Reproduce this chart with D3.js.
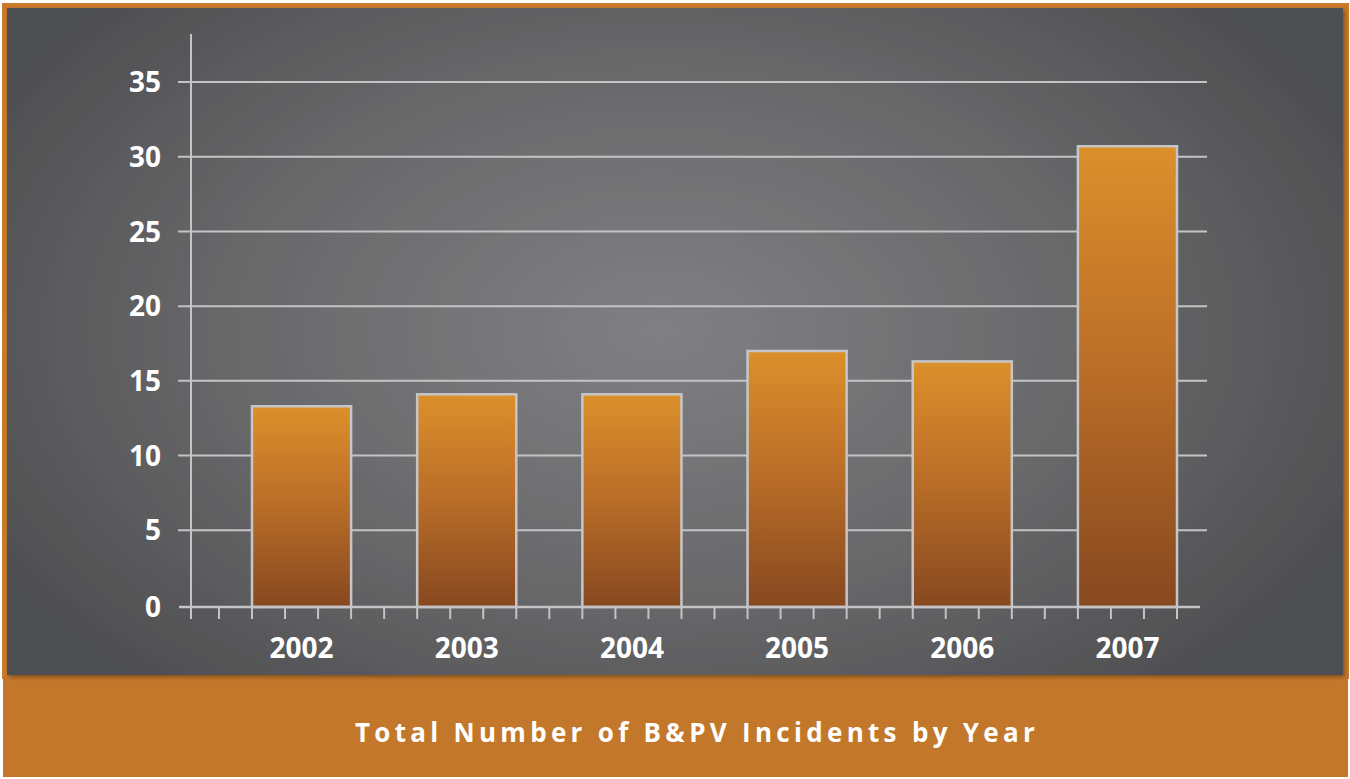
<!DOCTYPE html>
<html>
<head>
<meta charset="utf-8">
<script src="https://cdn.jsdelivr.net/npm/d3@7"></script>
<style>
  html, body { margin: 0; padding: 0; background: #ffffff; }
  svg { display: block; }
</style>
</head>
<body>
<script>
// Incident counts per year
const years = ["2002", "2003", "2004", "2005", "2006", "2007"];
const incidents = [13.3, 14.1, 14.1, 17.0, 16.3, 30.7];
const yTicks = [0, 5, 10, 15, 20, 25, 30, 35];
const title = "Total Number of B&PV Incidents by Year";

const W = 1350, H = 779;
const svg = d3.select("body").append("svg").attr("width", W).attr("height", H);
const defs = svg.append("defs");

// panel background: soft radial glow on dark grey
const bg = defs.append("radialGradient").attr("id", "panelGlow")
  .attr("gradientUnits", "userSpaceOnUse")
  .attr("cx", 660).attr("cy", 330).attr("r", 760)
  .attr("gradientTransform", "translate(660,330) scale(1,0.62) translate(-660,-330)");
bg.append("stop").attr("offset", "0%").attr("stop-color", "#808084");
bg.append("stop").attr("offset", "55%").attr("stop-color", "#69696b");
bg.append("stop").attr("offset", "100%").attr("stop-color", "#4e4f52");

// bar fill: amber at the top fading to brown
const barGrad = defs.append("linearGradient").attr("id", "barFill")
  .attr("x1", 0).attr("y1", 0).attr("x2", 0).attr("y2", 1);
barGrad.append("stop").attr("offset", "0%").attr("stop-color", "#db902b");
barGrad.append("stop").attr("offset", "45%").attr("stop-color", "#bd7028");
barGrad.append("stop").attr("offset", "100%").attr("stop-color", "#874820");

const shadow = defs.append("filter").attr("id", "panelShadow")
  .attr("x", "-2%").attr("y", "-2%").attr("width", "104%").attr("height", "104%");
shadow.append("feDropShadow").attr("dx", 2).attr("dy", 2).attr("stdDeviation", 2)
  .attr("flood-color", "#000").attr("flood-opacity", 0.35);

// orange frame and caption band
svg.append("rect").attr("x", 2).attr("y", 3).attr("width", 1347).attr("height", 676)
  .attr("fill", "#c97a2a");
svg.append("rect").attr("x", 3).attr("y", 675).attr("width", 1345).attr("height", 102)
  .attr("fill", "#c3772a");

// dark panel
svg.append("rect").attr("x", 7).attr("y", 8).attr("width", 1336).attr("height", 667)
  .attr("fill", "url(#panelGlow)").attr("filter", "url(#panelShadow)");

// scales
const y = d3.scaleLinear().domain([0, 35]).range([605, 82]);
const x = d3.scaleBand().domain(years).range([252, 1177]).paddingInner(0.4).paddingOuter(0);

const axisX = 191;      // vertical axis position
const baseY = 607;      // horizontal axis position
const lineCol = "#c4c4c6";
const labelFont = "'Open Sans', 'DejaVu Sans', sans-serif";

// horizontal gridlines
svg.append("g").selectAll("line").data(yTicks.filter(d => d > 0)).join("line")
  .attr("x1", 178).attr("x2", 1207)
  .attr("y1", d => y(d)).attr("y2", d => y(d))
  .attr("stroke", lineCol).attr("stroke-width", 2);

// vertical axis line
svg.append("line").attr("x1", axisX).attr("x2", axisX).attr("y1", 34).attr("y2", 619)
  .attr("stroke", lineCol).attr("stroke-width", 2);

// y tick labels
svg.append("g").selectAll("text").data(yTicks).join("text")
  .attr("x", 161).attr("y", d => d === 0 ? baseY : y(d))
  .attr("dy", "0.36em")
  .attr("text-anchor", "end")
  .attr("fill", "#ffffff")
  .attr("font-family", labelFont).attr("font-weight", 700).attr("font-size", 28)
  .text(d => d);

// bars
svg.append("g").selectAll("rect").data(years).join("rect")
  .attr("x", d => x(d))
  .attr("y", (d, i) => y(incidents[i]))
  .attr("width", x.bandwidth())
  .attr("height", (d, i) => baseY - y(incidents[i]))
  .attr("fill", "url(#barFill)")
  .attr("stroke", "#c6c6c8").attr("stroke-width", 2.5);

// horizontal axis line and minor ticks (five per band step)
svg.append("line").attr("x1", 179).attr("x2", 1200).attr("y1", baseY).attr("y2", baseY)
  .attr("stroke", lineCol).attr("stroke-width", 2.5);
const sub = x.step() / 5;
const tickPos = [axisX];
for (let k = -1; k <= 5 * (years.length - 1) + 3; k++) tickPos.push(x(years[0]) + k * sub);
svg.append("g").selectAll("line").data(tickPos).join("line")
  .attr("x1", d => d).attr("x2", d => d)
  .attr("y1", baseY).attr("y2", 619)
  .attr("stroke", lineCol).attr("stroke-width", 2);

// year labels
svg.append("g").selectAll("text").data(years).join("text")
  .attr("x", d => x(d) + x.bandwidth() / 2)
  .attr("y", 658)
  .attr("text-anchor", "middle")
  .attr("fill", "#ffffff")
  .attr("font-family", labelFont).attr("font-weight", 700).attr("font-size", 28)
  .text(d => d);

// caption
svg.append("text")
  .attr("x", 697).attr("y", 742)
  .attr("text-anchor", "middle")
  .attr("fill", "#ffffff")
  .attr("font-family", labelFont).attr("font-weight", 700).attr("font-size", 26)
  .attr("letter-spacing", 4.3)
  .text(title);
</script>
</body>
</html>
